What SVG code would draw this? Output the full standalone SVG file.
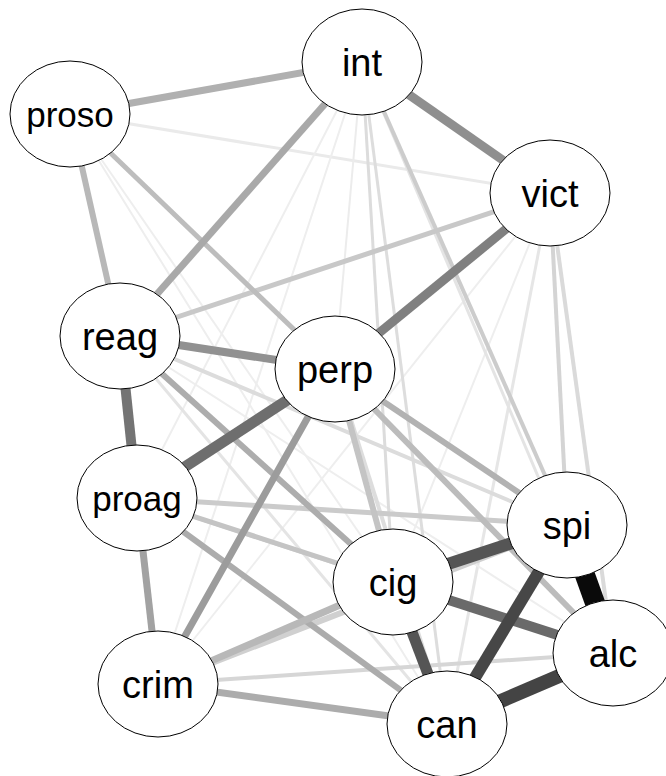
<svg xmlns="http://www.w3.org/2000/svg" width="666" height="776" viewBox="0 0 666 776">
<style>
.n ellipse{fill:#fff;stroke:#000;stroke-width:1}
.n text{font-family:"Liberation Sans",Arial,sans-serif;font-size:38px;text-anchor:middle;fill:#000}
.n text.s{font-size:35px}
#edges line{stroke-linecap:butt}
</style>
<rect width="666" height="776" fill="#fff"/>
<g id="edges">
<line x1="70" y1="114" x2="550" y2="193" stroke="#eaeaea" stroke-width="3"/>
<line x1="70" y1="114" x2="393" y2="582" stroke="#eeeeee" stroke-width="2"/>
<line x1="70" y1="114" x2="447" y2="724" stroke="#eeeeee" stroke-width="2"/>
<line x1="362" y1="62" x2="335" y2="369" stroke="#ececec" stroke-width="2"/>
<line x1="362" y1="62" x2="137" y2="498" stroke="#eeeeee" stroke-width="2"/>
<line x1="362" y1="62" x2="158" y2="684" stroke="#eeeeee" stroke-width="2"/>
<line x1="550" y1="193" x2="393" y2="582" stroke="#eeeeee" stroke-width="2"/>
<line x1="550" y1="193" x2="158" y2="684" stroke="#eeeeee" stroke-width="2"/>
<line x1="550" y1="193" x2="447" y2="724" stroke="#e6e6e6" stroke-width="3"/>
<line x1="120" y1="336" x2="613" y2="653" stroke="#eeeeee" stroke-width="2"/>
<line x1="120" y1="336" x2="447" y2="724" stroke="#e4e4e4" stroke-width="3"/>
<line x1="335" y1="369" x2="447" y2="724" stroke="#dddddd" stroke-width="4"/>
<line x1="137" y1="498" x2="393" y2="582" stroke="#d8d8d8" stroke-width="4"/>
<line x1="158" y1="684" x2="567" y2="525" stroke="#d0d0d0" stroke-width="6"/>
<line x1="362" y1="62" x2="393" y2="582" stroke="#dcdcdc" stroke-width="3"/>
<line x1="362" y1="62" x2="447" y2="724" stroke="#dddddd" stroke-width="3"/>
<line x1="362" y1="62" x2="613" y2="653" stroke="#e4e4e4" stroke-width="3"/>
<line x1="362" y1="62" x2="567" y2="525" stroke="#cccccc" stroke-width="4"/>
<line x1="550" y1="193" x2="567" y2="525" stroke="#d4d4d4" stroke-width="4"/>
<line x1="550" y1="193" x2="613" y2="653" stroke="#dadada" stroke-width="4"/>
<line x1="120" y1="336" x2="567" y2="525" stroke="#dcdcdc" stroke-width="4"/>
<line x1="137" y1="498" x2="567" y2="525" stroke="#cbcbcb" stroke-width="5"/>
<line x1="137" y1="498" x2="613" y2="653" stroke="#c4c4c4" stroke-width="5"/>
<line x1="158" y1="684" x2="613" y2="653" stroke="#d6d6d6" stroke-width="4"/>
<line x1="550" y1="193" x2="120" y2="336" stroke="#c8c8c8" stroke-width="5"/>
<line x1="335" y1="369" x2="393" y2="582" stroke="#c4c4c4" stroke-width="6"/>
<line x1="70" y1="114" x2="120" y2="336" stroke="#b8b8b8" stroke-width="6"/>
<line x1="70" y1="114" x2="335" y2="369" stroke="#bdbdbd" stroke-width="5"/>
<line x1="70" y1="114" x2="362" y2="62" stroke="#b0b0b0" stroke-width="7"/>
<line x1="362" y1="62" x2="120" y2="336" stroke="#a9a9a9" stroke-width="7"/>
<line x1="335" y1="369" x2="567" y2="525" stroke="#b2b2b2" stroke-width="6"/>
<line x1="335" y1="369" x2="613" y2="653" stroke="#bcbcbc" stroke-width="6"/>
<line x1="120" y1="336" x2="393" y2="582" stroke="#adadad" stroke-width="6"/>
<line x1="137" y1="498" x2="447" y2="724" stroke="#acacac" stroke-width="6"/>
<line x1="158" y1="684" x2="393" y2="582" stroke="#b8b8b8" stroke-width="7"/>
<line x1="158" y1="684" x2="447" y2="724" stroke="#acacac" stroke-width="7"/>
<line x1="137" y1="498" x2="158" y2="684" stroke="#a2a2a2" stroke-width="7"/>
<line x1="335" y1="369" x2="158" y2="684" stroke="#9c9c9c" stroke-width="7"/>
<line x1="120" y1="336" x2="335" y2="369" stroke="#919191" stroke-width="8"/>
<line x1="362" y1="62" x2="550" y2="193" stroke="#8f8f8f" stroke-width="9"/>
<line x1="550" y1="193" x2="335" y2="369" stroke="#808080" stroke-width="9"/>
<line x1="120" y1="336" x2="137" y2="498" stroke="#747474" stroke-width="10"/>
<line x1="335" y1="369" x2="137" y2="498" stroke="#6e6e6e" stroke-width="11"/>
<line x1="393" y1="582" x2="613" y2="653" stroke="#6a6a6a" stroke-width="10"/>
<line x1="393" y1="582" x2="447" y2="724" stroke="#555555" stroke-width="11"/>
<line x1="393" y1="582" x2="567" y2="525" stroke="#555555" stroke-width="12"/>
<line x1="567" y1="525" x2="447" y2="724" stroke="#474747" stroke-width="12"/>
<line x1="613" y1="653" x2="447" y2="724" stroke="#444444" stroke-width="14"/>
<line x1="567" y1="525" x2="613" y2="653" stroke="#0a0a0a" stroke-width="20"/>
</g>
<g id="proso" class="n"><ellipse cx="70" cy="114" rx="60" ry="53"/><text class="s" x="70" y="127">proso</text></g>
<g id="int" class="n"><ellipse cx="362" cy="62" rx="60" ry="53"/><text x="362" y="76">int</text></g>
<g id="vict" class="n"><ellipse cx="550" cy="193" rx="60" ry="53"/><text x="550" y="207">vict</text></g>
<g id="reag" class="n"><ellipse cx="120" cy="336" rx="60" ry="53"/><text x="120" y="350">reag</text></g>
<g id="perp" class="n"><ellipse cx="335" cy="369" rx="60" ry="53"/><text x="335" y="383">perp</text></g>
<g id="proag" class="n"><ellipse cx="137" cy="498" rx="60" ry="53"/><text class="s" x="137" y="511">proag</text></g>
<g id="spi" class="n"><ellipse cx="567" cy="525" rx="60" ry="53"/><text x="567" y="539">spi</text></g>
<g id="cig" class="n"><ellipse cx="393" cy="582" rx="60" ry="53"/><text x="393" y="596">cig</text></g>
<g id="alc" class="n"><ellipse cx="613" cy="653" rx="60" ry="53"/><text x="613" y="667">alc</text></g>
<g id="crim" class="n"><ellipse cx="158" cy="684" rx="60" ry="53"/><text x="158" y="698">crim</text></g>
<g id="can" class="n"><ellipse cx="447" cy="724" rx="60" ry="53"/><text x="447" y="738">can</text></g>
</svg>
